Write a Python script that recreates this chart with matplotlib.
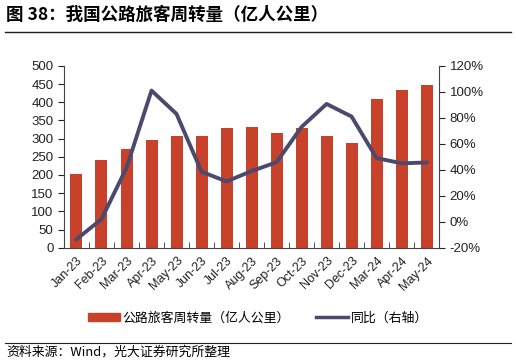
import numpy as np
import matplotlib.pyplot as plt
from matplotlib.lines import Line2D
from matplotlib.ticker import FuncFormatter, FixedLocator

plt.rcParams['font.family'] = ['Liberation Sans', 'Noto Sans CJK SC', 'DejaVu Sans']

months = ["Jan-23", "Feb-23", "Mar-23", "Apr-23", "May-23", "Jun-23", "Jul-23", "Aug-23",
          "Sep-23", "Oct-23", "Nov-23", "Dec-23", "Mar-24", "Apr-24", "May-24"]
volume = [204, 240, 272, 297, 306, 306, 330, 333, 315, 328, 306, 289, 410, 434, 447]
yoy = [-13.5, 2, 41.5, 101, 83, 38.5, 31, 39, 45.8, 73, 90.7, 81, 49, 45, 45.6]

BAR = "#C8412A"
LINE = "#4B4A6E"
CJK = ['Noto Sans CJK SC', 'DejaVu Sans']

fig = plt.figure(figsize=(5.16, 3.64), dpi=100)
ax = fig.add_axes([0.124, 0.3195, 0.727, 0.4995])
x = np.arange(len(months))
ax.bar(x, volume, width=0.48, color=BAR, zorder=2)
ax.set_ylim(0, 500)
ax.set_yticks(range(0, 501, 50))
ax.set_xlim(-0.5, len(months) - 0.5)
ax.set_xticks(x)
ax.set_xticklabels(months, rotation=45, ha="right", rotation_mode="anchor")
ax.xaxis.set_minor_locator(FixedLocator(np.arange(-0.5, len(months), 1)))
ax.tick_params(axis="x", which="major", length=0, pad=5, labelsize=9, colors="#222222")
ax.tick_params(axis="x", which="minor", length=4, direction="in", color="#333333")
ax.tick_params(axis="y", length=4, labelsize=9.5, colors="#222222")
for s in ["top", "right"]:
    ax.spines[s].set_visible(False)
ax.spines["left"].set_color("#444444")
ax.spines["bottom"].set_color("#444444")

ax2 = ax.twinx()
ax2.plot(x, yoy, color=LINE, lw=2.8, zorder=3)
ax2.set_ylim(-20, 120)
ax2.set_yticks(range(-20, 121, 20))
ax2.yaxis.set_major_formatter(FuncFormatter(lambda v, p: f"{v:.0f}%"))
ax2.tick_params(axis="y", length=4, labelsize=9.5, colors="#222222")
for s in ["top", "left", "bottom"]:
    ax2.spines[s].set_visible(False)
ax2.spines["right"].set_color("#444444")

fig.text(0.012, 0.958, "图 38：我国公路旅客周转量（亿人公里）", fontsize=12.6, fontweight="bold",
         family=CJK, va="center")
fig.add_artist(Line2D([0.01, 0.99], [0.913, 0.913], color="#222222", lw=1))
fig.add_artist(Line2D([0.01, 0.99], [0.058, 0.058], color="#222222", lw=0.8))
fig.text(0.012, 0.032, "资料来源：Wind，光大证券研究所整理", fontsize=9.3, family=CJK, va="center")

handles = [plt.Rectangle((0, 0), 1, 1, color=BAR), Line2D([0], [0], color=LINE, lw=2.5)]
fig.legend(handles, ["公路旅客周转量（亿人公里）", "同比（右轴）"], loc="center",
           bbox_to_anchor=(0.5, 0.127), ncol=2, frameon=False, handlelength=2.5,
           handleheight=0.6, handletextpad=0.2, columnspacing=2.0,
           prop={"family": CJK, "size": 9.3})

fig.savefig("out.png", dpi=100)
